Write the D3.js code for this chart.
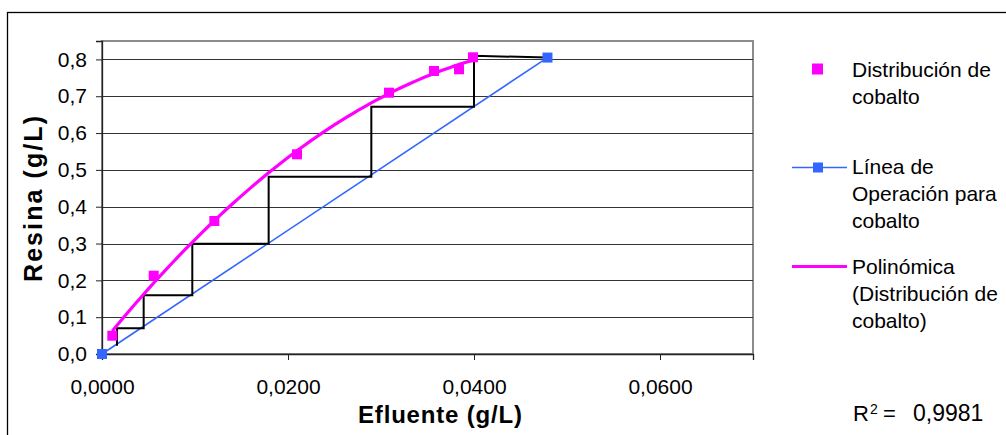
<!DOCTYPE html>
<html>
<head>
<meta charset="utf-8">
<script src="https://cdn.jsdelivr.net/npm/d3@7"></script>
<style>
  body { margin: 0; background: #fff; }
  svg text { font-family: "Liberation Sans", Arial, sans-serif; fill: #000; }
</style>
</head>
<body>
<div id="chart"></div>
<script>
// distribución de cobalto (puntos experimentales)
const distX = [0.00111, 0.00556, 0.01208, 0.02097, 0.03086, 0.03570, 0.03839, 0.03989];
const distY = [0.0497, 0.2126, 0.3612, 0.5423, 0.7096, 0.7685, 0.7732, 0.8057];

// línea de operación
const opX = [0.0, 0.0479];
const opY = [0.0, 0.805];

// escalones
const stairX = [0.0479, 0.0400, 0.0400, 0.02896, 0.02896, 0.01792, 0.01792, 0.00971, 0.00971, 0.00448, 0.00448, 0.00161, 0.00161];
const stairY = [0.805, 0.810, 0.6716, 0.6716, 0.4815, 0.4815, 0.2995, 0.2995, 0.1594, 0.1594, 0.0698, 0.0698, 0.0225];

const xTicks = [0, 0.02, 0.04, 0.06];
const yTicks = [0, 0.1, 0.2, 0.3, 0.4, 0.5, 0.6, 0.7, 0.8];
const legendLabels = [
  ["Distribución de", "cobalto"],
  ["Línea de", "Operación para", "cobalto"],
  ["Polinómica", "(Distribución de", "cobalto)"]
];
const r2Label = "0,9981";

const W = 1006, H = 435;
const plot = { left: 102, right: 753, top: 41, bottom: 354 };
const magenta = "#ff00ff", blue = "#3366ff";

const svg = d3.select("#chart").append("svg").attr("width", W).attr("height", H);

// marco exterior
svg.append("rect")
  .attr("x", 7.5).attr("y", 12.5)
  .attr("width", W).attr("height", H)
  .attr("fill", "none").attr("stroke", "#000").attr("stroke-width", 1.3);

const x = d3.scaleLinear().domain([0, 0.07]).range([plot.left, plot.right]);
const y = d3.scaleLinear().domain([0, 0.85]).range([plot.bottom, plot.top]);

const comma = (f) => (v) => d3.format(f)(v).replace(".", ",");

// marco del área de trazado
svg.append("rect")
  .attr("x", plot.left).attr("y", plot.top)
  .attr("width", plot.right - plot.left).attr("height", plot.bottom - plot.top)
  .attr("fill", "none").attr("stroke", "#8c8c8c").attr("stroke-width", 2);

// líneas de división
svg.append("g")
  .selectAll("line")
  .data(yTicks.filter((d) => d > 0))
  .join("line")
  .attr("x1", plot.left).attr("x2", plot.right)
  .attr("y1", (d) => Math.round(y(d)) + 0.5).attr("y2", (d) => Math.round(y(d)) + 0.5)
  .attr("stroke", "#333").attr("stroke-width", 1.2);

// ejes
const yAxis = svg.append("g")
  .attr("transform", `translate(${plot.left},0)`)
  .call(d3.axisLeft(y).tickValues(yTicks).tickFormat(comma(".1f")).tickSize(6).tickPadding(9));
const xAxis = svg.append("g")
  .attr("transform", `translate(0,${plot.bottom})`)
  .call(d3.axisBottom(x).tickValues(xTicks).tickFormat(comma(".4f")).tickSize(6).tickPadding(19));

[yAxis, xAxis].forEach((a) => {
  a.select(".domain").attr("stroke", "#222").attr("stroke-width", 1.3);
  a.selectAll(".tick line").attr("stroke", "#222");
  a.selectAll(".tick text")
    .attr("font-size", 21)
    .attr("font-family", "'Liberation Sans', Arial, sans-serif")
    .attr("fill", "#000");
});

// títulos de ejes
svg.append("text")
  .attr("x", 440).attr("y", 423)
  .attr("text-anchor", "middle")
  .attr("font-size", 24).attr("font-weight", "bold")
  .attr("textLength", 164).attr("lengthAdjust", "spacing")
  .text("Efluente (g/L)");

svg.append("text")
  .attr("transform", "translate(42,199) rotate(-90)")
  .attr("text-anchor", "middle")
  .attr("font-size", 25).attr("font-weight", "bold")
  .attr("textLength", 166).attr("lengthAdjust", "spacing")
  .text("Resina (g/L)");

// línea de operación
const opPts = opX.map((v, i) => [v, opY[i]]);
const line = d3.line().x((d) => x(d[0])).y((d) => y(d[1]));

svg.append("path")
  .datum(opPts)
  .attr("d", line)
  .attr("fill", "none").attr("stroke", blue).attr("stroke-width", 1.6);

// escalones
svg.append("path")
  .datum(stairX.map((v, i) => [v, stairY[i]]))
  .attr("d", line)
  .attr("fill", "none").attr("stroke", "#000").attr("stroke-width", 2);

// marcadores
const sq = 10;
svg.append("g")
  .selectAll("rect")
  .data(distX.map((v, i) => [v, distY[i]]))
  .join("rect")
  .attr("x", (d) => x(d[0]) - sq / 2).attr("y", (d) => y(d[1]) - sq / 2)
  .attr("width", sq).attr("height", sq)
  .attr("fill", magenta);

svg.append("g")
  .selectAll("rect")
  .data(opPts)
  .join("rect")
  .attr("x", (d) => x(d[0]) - sq / 2).attr("y", (d) => y(d[1]) - sq / 2)
  .attr("width", sq).attr("height", sq)
  .attr("fill", blue);

// línea de tendencia polinómica (grado 2, mínimos cuadrados)
function polyFit(xs, ys) {
  const s = [0, 0, 0, 0, 0], t = [0, 0, 0];
  xs.forEach((xv, i) => {
    for (let k = 0; k < 5; k++) s[k] += Math.pow(xv, k);
    for (let k = 0; k < 3; k++) t[k] += ys[i] * Math.pow(xv, k);
  });
  const A = [[s[0], s[1], s[2], t[0]], [s[1], s[2], s[3], t[1]], [s[2], s[3], s[4], t[2]]];
  for (let c = 0; c < 3; c++) {
    for (let r = c + 1; r < 3; r++) {
      const f = A[r][c] / A[c][c];
      for (let k = c; k < 4; k++) A[r][k] -= f * A[c][k];
    }
  }
  const coef = [0, 0, 0];
  for (let r = 2; r >= 0; r--) {
    let v = A[r][3];
    for (let k = r + 1; k < 3; k++) v -= A[r][k] * coef[k];
    coef[r] = v / A[r][r];
  }
  return coef;
}
const coef = polyFit(distX, distY);
const [xMin, xMax] = d3.extent(distX);
const trendPts = d3.range(0, 61).map((i) => {
  const xv = xMin + (xMax - xMin) * i / 60;
  return [xv, coef[0] + coef[1] * xv + coef[2] * xv * xv];
});
svg.append("path")
  .datum(trendPts)
  .attr("d", line)
  .attr("fill", "none").attr("stroke", magenta).attr("stroke-width", 3.2);

// leyenda
const legend = svg.append("g").attr("font-size", 21);
const legX = 792, legTextX = 852;
const legTop = [77, 174, 274];
const lh = 26.8;

legend.append("rect")
  .attr("x", 817.5 - 5.5).attr("y", 69 - 5.5).attr("width", 11).attr("height", 11)
  .attr("fill", magenta);

legend.append("line")
  .attr("x1", legX).attr("x2", 847).attr("y1", 167.5).attr("y2", 167.5)
  .attr("stroke", blue).attr("stroke-width", 1.6);
legend.append("rect")
  .attr("x", 818 - 5).attr("y", 167.5 - 5).attr("width", 10).attr("height", 10)
  .attr("fill", blue);

legend.append("line")
  .attr("x1", legX).attr("x2", 847).attr("y1", 266.5).attr("y2", 266.5)
  .attr("stroke", magenta).attr("stroke-width", 3.2);

legendLabels.forEach((lines, i) => {
  const t = legend.append("text").attr("x", legTextX).attr("y", legTop[i]);
  lines.forEach((s, j) => {
    t.append("tspan").attr("x", legTextX).attr("y", legTop[i] + j * lh).text(s);
  });
});

// R²
const r2 = svg.append("text").attr("x", 853).attr("y", 421).attr("font-size", 22);
r2.append("tspan").text("R");
r2.append("tspan").attr("font-size", 14).attr("dx", 1).attr("dy", -7).text("2");
r2.append("tspan").attr("x", 883).attr("y", 421).text("=");
r2.append("tspan").attr("x", 913).attr("y", 421).attr("font-size", 23).text(r2Label);
</script>
</body>
</html>
